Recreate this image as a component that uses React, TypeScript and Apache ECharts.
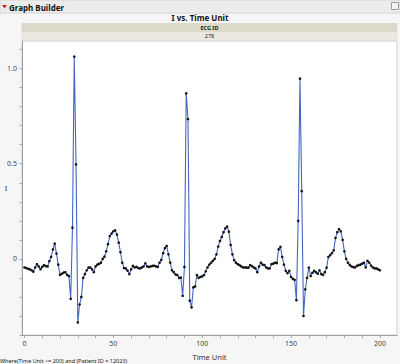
import React, { useEffect, useRef } from "react";
import * as echarts from "echarts";

// Lead I amplitude per time unit (Time Unit 0..200)
const iValues: number[] = [
  -0.045, -0.048, -0.052, -0.055, -0.06, -0.067, -0.045, -0.028, -0.04, -0.054,
  -0.042, -0.033, -0.038, -0.04, -0.012, 0.01, 0.05, 0.08, 0.028, -0.03,
  -0.084, -0.078, -0.072, -0.07, -0.084, -0.09, -0.21, 0.164, 1.063, 0.496,
  -0.334, -0.24, -0.2, -0.1, -0.08, -0.06, -0.046, -0.045, -0.055, -0.07,
  -0.04, -0.03, -0.026, -0.02, 0.0, 0.012, 0.04, 0.077, 0.12, 0.133,
  0.145, 0.15, 0.128, 0.085, 0.035, -0.02, -0.048, -0.05, -0.062, -0.08,
  -0.055, -0.037, -0.045, -0.042, -0.048, -0.05, -0.045, -0.04, -0.023, -0.04,
  -0.042, -0.04, -0.037, -0.036, -0.04, -0.042, -0.02, -0.005, 0.03, 0.056,
  0.068, 0.024, -0.02, -0.06, -0.07, -0.082, -0.085, -0.1, -0.098, -0.194,
  -0.042, 0.87, 0.735, -0.22, -0.255, -0.15, -0.145, -0.085, -0.1, -0.095,
  -0.092, -0.085, -0.065, -0.045, -0.03, -0.02, -0.01, 0.0, 0.024, 0.065,
  0.094, 0.115, 0.14, 0.16, 0.17, 0.143, 0.073, 0.024, -0.007, -0.02,
  -0.028, -0.033, -0.04, -0.045, -0.045, -0.046, -0.046, -0.033, -0.038, -0.045,
  -0.05, -0.07, -0.04, -0.02, -0.03, -0.033, -0.045, -0.05, -0.05, -0.028,
  -0.025, -0.02, -0.022, 0.05, 0.063, 0.01, -0.03, -0.063, -0.075, -0.063,
  -0.095, -0.105, -0.11, -0.217, 0.2, 0.947, 0.356, -0.3, -0.16, -0.1,
  -0.046, -0.09, -0.073, -0.063, -0.07, -0.078, -0.06, -0.08, -0.084, -0.07,
  -0.046, 0.01, 0.02, 0.03, 0.045, 0.11, 0.14, 0.156, 0.145, 0.1,
  0.04, 0.0, -0.02, -0.032, -0.04, -0.043, -0.045, -0.037, -0.033, -0.03,
  -0.025, -0.02, -0.045, -0.01, -0.02, -0.035, -0.045, -0.05, -0.05, -0.055,
  -0.06,
];
const timeStart = 0; // first Time Unit

const xTickLabels = [0, 50, 100, 150, 200];
const xTicks = [0, 10, 20, 30, 40, 50, 60, 70, 80, 90, 100, 110, 120, 130, 140, 150, 160, 170, 180, 190, 200];
const yTickLabels = [0, 0.5, 1.0];
const yTicks = [-0.4, -0.3, -0.2, -0.1, 0, 0.1, 0.2, 0.3, 0.4, 0.5, 0.6, 0.7, 0.8, 0.9, 1.0, 1.1];

const windowTitle = "Graph Builder";
const chartTitle = "I vs. Time Unit";
const groupName = "ECG ID";
const groupValue = "278";
const xName = "Time Unit";
const yName = "I";
const footer = "Where(Time Unit <= 200) and (Patient ID = 12023)";

const FONT = "'Noto Sans', 'Open Sans', 'DejaVu Sans', sans-serif";

export default function App() {
  const ref = useRef<HTMLDivElement>(null);
  useEffect(() => {
    if (!ref.current) return;
    const chart = echarts.init(ref.current, undefined, { renderer: "svg" });
    const data = iValues.map((v, i) => [timeStart + i, v]);
    const plotL = 22, plotR = 397, plotT = 41, plotB = 335;
    chart.setOption({
      animation: false,
      backgroundColor: "#f6f6f6",
      textStyle: { fontFamily: FONT },
      grid: {
        left: plotL, right: 400 - plotR, top: plotT, bottom: 364 - plotB,
        show: true, backgroundColor: "#ffffff", borderColor: "#cfcfcf", borderWidth: 1,
        containLabel: false, outerBoundsMode: "none",
      },
      xAxis: {
        type: "value", min: -1.4, max: 209.6,
        name: xName, nameLocation: "middle", nameGap: 18,
        nameTextStyle: { fontSize: 7.5, color: "#333", fontFamily: FONT },
        axisLine: { show: true, onZero: false, lineStyle: { color: "#a0a0a0", width: 1 } },
        axisTick: { show: true, length: 3, customValues: xTicks, lineStyle: { color: "#a8a8a8" } },
        axisLabel: { customValues: xTickLabels, fontSize: 7, color: "#444", margin: 5, fontFamily: FONT },
        splitLine: { show: false },
        minorTick: { show: false },
      },
      yAxis: {
        type: "value", min: -0.4, max: 1.145,
        axisLine: { show: true, onZero: false, lineStyle: { color: "#a0a0a0", width: 1 } },
        axisTick: { show: true, length: 2.5, customValues: yTicks, lineStyle: { color: "#a8a8a8" } },
        axisLabel: {
          customValues: yTickLabels, fontSize: 7, color: "#444", margin: 5, fontFamily: FONT,
          formatter: (v: number) => (v === 0 ? "0" : v.toFixed(1)),
        },
        splitLine: { show: false },
      },
      series: [
        {
          type: "line", data, symbol: "circle", symbolSize: 2.6, showSymbol: true, showAllSymbol: true,
          lineStyle: { color: "#4466c2", width: 1.1 },
          itemStyle: { color: "#111111" },
          emphasis: { disabled: true }, silent: true, z: 3,
        },
      ],
      graphic: [
        { type: "rect", shape: { x: 0, y: 0, width: 400, height: 13 }, style: { fill: "#ececec", stroke: "#d4d4d4", lineWidth: 1 }, silent: true },
        { type: "polygon", shape: { points: [[2, 5], [7, 5], [4.5, 8.5]] }, style: { fill: "#c8261c" }, silent: true },
        { type: "text", x: 9, y: 7, style: { text: windowTitle, fontSize: 8, fontWeight: "bold", fill: "#111", fontFamily: FONT, textVerticalAlign: "middle" }, silent: true },
        { type: "rect", shape: { x: 391.5, y: 2.5, width: 7, height: 7 }, style: { fill: "#f4f4f4", stroke: "#9c9c9c", lineWidth: 1 }, silent: true },
        { type: "text", x: 200, y: 17.5, style: { text: chartTitle, fontSize: 8, fontWeight: "bold", fill: "#111", fontFamily: FONT, textAlign: "center", textVerticalAlign: "middle" }, silent: true },
        { type: "rect", shape: { x: plotL, y: 23.5, width: plotR - plotL, height: 8.5 }, style: { fill: "#dcdacb", stroke: "#cfccbb", lineWidth: 0.5 }, silent: true },
        { type: "text", x: (plotL + plotR) / 2, y: 27.8, style: { text: groupName, fontSize: 5.5, fontWeight: "bold", fill: "#222", fontFamily: FONT, textAlign: "center", textVerticalAlign: "middle" }, silent: true },
        { type: "rect", shape: { x: plotL, y: 32, width: plotR - plotL, height: 8.5 }, style: { fill: "#ebe9df", stroke: "#d9d6c8", lineWidth: 0.5 }, silent: true },
        { type: "text", x: (plotL + plotR) / 2, y: 36.3, style: { text: groupValue, fontSize: 5.5, fill: "#222", fontFamily: FONT, textAlign: "center", textVerticalAlign: "middle" }, silent: true },
        { type: "text", x: 6, y: 188, style: { text: yName, fontSize: 7.5, fill: "#333", fontFamily: FONT, textAlign: "center", textVerticalAlign: "middle" }, silent: true },
        { type: "text", x: 0, y: 360.5, style: { text: footer, fontSize: 5.5, fill: "#222", fontFamily: FONT, textVerticalAlign: "middle" }, silent: true },
      ],
    });
    return () => chart.dispose();
  }, []);
  return <div ref={ref} style={{ position: "absolute", left: 0, top: 0, width: 400, height: 364 }} />;
}
